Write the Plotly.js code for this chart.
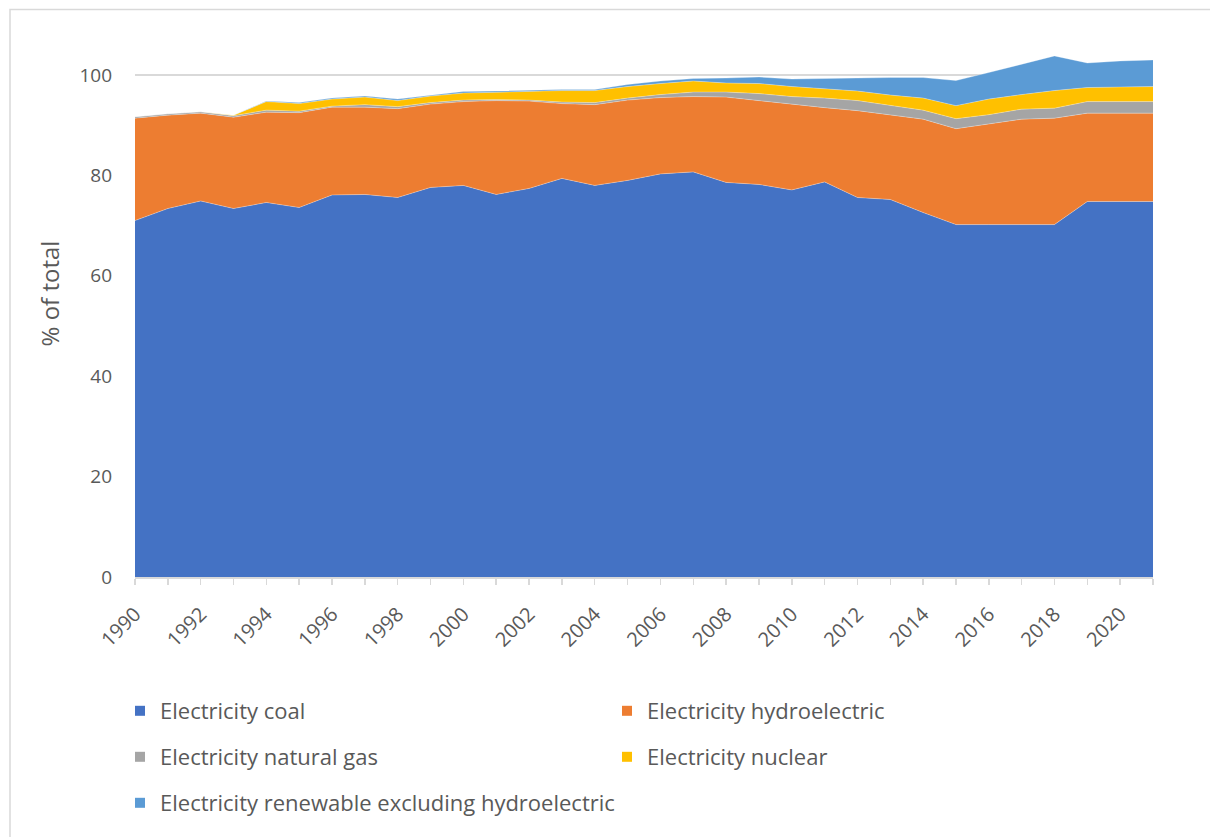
<!DOCTYPE html>
<html>
<head>
<meta charset="utf-8">
<script src="https://cdn.plot.ly/plotly-3.0.1.min.js"></script>
<style>html,body{margin:0;padding:0;background:#fff;}#chart{width:1210px;height:837px;}</style>
</head>
<body>
<div id="chart"></div>
<script>
const years = [1990,1991,1992,1993,1994,1995,1996,1997,1998,1999,2000,2001,2002,2003,2004,2005,2006,2007,2008,2009,2010,2011,2012,2013,2014,2015,2016,2017,2018,2019,2020,2021];
const coal = [71.0,73.4,74.9,73.4,74.6,73.6,76.1,76.2,75.6,77.6,78.0,76.2,77.4,79.4,78.0,79.0,80.3,80.7,78.6,78.2,77.1,78.7,75.6,75.2,72.6,70.2,70.2,70.2,70.2,74.8,74.8,74.8];
const hydro = [20.4,18.6,17.5,18.2,18.0,18.9,17.5,17.4,17.7,16.6,16.7,18.7,17.4,14.9,16.1,16.0,15.2,15.0,17.0,16.7,17.0,14.8,17.3,16.8,18.6,19.1,20.0,21.0,21.2,17.6,17.6,17.6];
const gas = [0.3,0.3,0.3,0.3,0.4,0.3,0.2,0.5,0.4,0.3,0.3,0.2,0.2,0.3,0.4,0.4,0.6,0.9,1.0,1.4,1.6,1.9,2.0,2.0,1.8,2.0,1.9,2.0,2.0,2.3,2.3,2.3];
const nuclear = [0.0,0.0,0.0,0.1,1.7,1.5,1.4,1.5,1.2,1.3,1.4,1.5,1.8,2.3,2.4,2.3,2.2,2.2,1.8,2.0,2.0,1.8,1.9,2.0,2.4,2.6,3.1,2.9,3.5,2.8,2.9,3.0];
const renewable = [0.0,0.0,0.0,0.0,0.1,0.2,0.2,0.2,0.3,0.2,0.3,0.2,0.2,0.2,0.2,0.4,0.5,0.5,1.0,1.3,1.5,2.1,2.7,3.5,4.1,5.0,5.3,6.1,6.9,4.9,5.2,5.3];
const seriesNames = ["Electricity coal","Electricity hydroelectric","Electricity natural gas","Electricity nuclear","Electricity renewable excluding hydroelectric"];
const seriesColors = ["#4472C4","#ED7D31","#A5A5A5","#FFC000","#5B9BD5"];
const seriesValues = [coal, hydro, gas, nuclear, renewable];
const legendIds = ["legend","legend","legend2","legend2","legend3"];
const tickLabels = years.map(y => (y % 2 === 0 ? String(y) : ""));

const FONT = "'Open Sans', Lato, sans-serif";
const traces = [];
seriesValues.forEach((vals, i) => {
  traces.push({
    x: years, y: vals, type: "scatter", mode: "lines", stackgroup: "one",
    name: seriesNames[i], line: {width: 0.6, color: "rgba(255,255,255,0.5)"},
    fillcolor: seriesColors[i], showlegend: false, hoverinfo: "x+y+name"
  });
});
seriesValues.forEach((vals, i) => {
  traces.push({
    x: [null], y: [null], type: "scatter", mode: "markers",
    name: seriesNames[i], marker: {symbol: "square", size: 10, color: seriesColors[i]},
    legend: legendIds[i], showlegend: true
  });
});

const plotTop = 10, plotBottom = 577, plotLeft = 135, plotRight = 1153;
const ph = plotBottom - plotTop, pw = plotRight - plotLeft;
const px2x = p => (p - plotLeft) / pw;
const px2y = p => (plotBottom - p) / ph;

const legendCommon = {
  orientation: "h", xanchor: "left", yanchor: "middle", x: px2x(120), traceorder: "normal",
  font: {family: FONT, size: 22, color: "#595959"}, bgcolor: "rgba(0,0,0,0)",
  entrywidth: 442, entrywidthmode: "pixels", itemclick: false, itemdoubleclick: false
};

const layout = {
  width: 1210, height: 837,
  margin: {l: plotLeft, r: 1210 - plotRight, t: plotTop, b: 837 - plotBottom, pad: 0},
  paper_bgcolor: "#ffffff", plot_bgcolor: "#ffffff",
  font: {family: FONT, color: "#595959"},
  xaxis: {
    range: [1990, 2021], tickmode: "array", tickvals: years, ticktext: tickLabels,
    tickangle: -45, ticks: "outside", ticklen: 6, tickcolor: "#d9d9d9", tickwidth: 1.5,
    showline: true, linecolor: "#d9d9d9", linewidth: 1.5, showgrid: false, zeroline: false,
    ticklabelstandoff: 10,
    tickfont: {family: FONT, size: 20, color: "#595959"}, automargin: false
  },
  yaxis: {
    range: [0, 112.95], tickvals: [0,20,40,60,80,100], showgrid: true, gridcolor: "#d9d9d9", gridwidth: 1.5,
    zeroline: false, showline: false, ticks: "", ticklabelstandoff: 22,
    tickfont: {family: FONT, size: 19, color: "#595959"},
    title: {text: "% of total", font: {family: FONT, size: 24, color: "#595959"}, standoff: 13},
    automargin: false
  },
  legend: Object.assign({}, legendCommon, {y: px2y(711)}),
  legend2: Object.assign({}, legendCommon, {y: px2y(757)}),
  legend3: Object.assign({}, legendCommon, {y: px2y(803), entrywidth: 0}),
  shapes: [{
    type: "rect", xref: "paper", yref: "paper",
    x0: px2x(10), x1: px2x(1215), y0: px2y(845), y1: px2y(9.5),
    line: {color: "#d9d9d9", width: 1.5}, fillcolor: "rgba(0,0,0,0)", layer: "below"
  }]
};

Plotly.newPlot("chart", traces, layout, {displayModeBar: false, staticPlot: true});
</script>
</body>
</html>
